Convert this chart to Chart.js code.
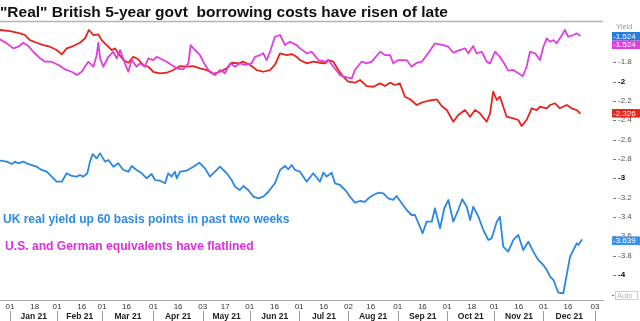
<!DOCTYPE html>
<html><head><meta charset="utf-8">
<script src="https://cdn.jsdelivr.net/npm/chart.js@4/dist/chart.umd.min.js"></script>
<style>html,body{margin:0;padding:0;background:#fff;overflow:hidden}#wrap{width:640px;height:321px;position:relative}</style>
</head><body><div id="wrap"><canvas id="c" width="640" height="321"></canvas></div>
<script>
const TITLE = '"Real" British 5-year govt  borrowing costs have risen of late';
const NOTE_UK = 'UK real yield up 60 basis points in past two weeks';
const NOTE_US = 'U.S. and German equivalents have flatlined';
const AXIS_TITLE = 'Yield';
const AUTO_LABEL = 'Auto';

// x values: trading-day index (weekdays counted from 1 Jan 2021 = 0)
const tickIdx = [0,11,21,32,41,52,64,75,86,96,107,118,129,140,151,161,173,184,195,206,216,227,238,249,261];
const tickLabels = ["01","18","01","16","01","16","01","16","03","17","01","16","01","16","02","16","01","16","01","18","01","16","01","16","03"];
const monthStartIdx = [0,21,41,64,86,107,129,151,173,195,216,238,261];
const monthLabels = ["Jan 21","Feb 21","Mar 21","Apr 21","May 21","Jun 21","Jul 21","Aug 21","Sep 21","Oct 21","Nov 21","Dec 21"];
const yTicks = [-1.6,-1.8,-2,-2.2,-2.4,-2.6,-2.8,-3,-3.2,-3.4,-3.6,-3.8,-4];

// UK 5-year real yield (blue)
const ukRealYield = [[-4.5,-2.819],[-1.5,-2.829],[0.8,-2.853],[2.2,-2.829],[3.7,-2.846],[5.9,-2.829],[7.5,-2.846],[9.7,-2.864],[11.9,-2.881],[14.1,-2.915],[16.4,-2.933],[18.6,-2.984],[20.8,-3.036],[23.1,-3.036],[25.3,-2.949],[27.5,-2.977],[29.8,-2.984],[31.2,-2.967],[32.7,-2.984],[34.5,-2.949],[35.7,-2.829],[36.9,-2.750],[38.7,-2.794],[40.2,-2.743],[42.4,-2.829],[43.9,-2.812],[46.1,-2.881],[48.3,-2.846],[50.6,-2.915],[52.8,-2.933],[54.3,-2.874],[56.5,-2.915],[58.8,-2.949],[61.0,-3.001],[63.2,-2.957],[64.7,-3.019],[66.9,-3.026],[69.2,-3.053],[70.6,-2.949],[72.1,-2.984],[73.6,-2.933],[74.4,-3.001],[75.9,-2.933],[78.8,-2.922],[81.8,-2.881],[84.5,-2.840],[87.0,-2.898],[89.2,-2.984],[91.5,-2.933],[93.7,-2.881],[96.7,-2.949],[98.9,-3.019],[100.4,-3.088],[102.6,-3.122],[104.1,-3.081],[106.3,-3.122],[108.6,-3.191],[110.8,-3.208],[113.0,-3.191],[115.3,-3.140],[118.2,-3.053],[120.5,-2.915],[122.7,-2.874],[124.2,-2.908],[125.7,-2.864],[127.2,-2.915],[129.4,-2.933],[132.4,-3.036],[135.3,-2.949],[138.3,-3.036],[139.8,-2.943],[141.3,-2.984],[143.5,-2.943],[145.0,-3.053],[147.2,-3.070],[148.7,-3.104],[150.2,-3.140],[151.7,-3.191],[153.9,-3.253],[156.2,-3.236],[158.4,-3.246],[159.9,-3.208],[162.1,-3.174],[164.3,-3.150],[166.6,-3.156],[168.8,-3.208],[171.0,-3.225],[172.5,-3.184],[174.8,-3.260],[177.0,-3.329],[179.2,-3.381],[180.7,-3.381],[182.9,-3.502],[184.1,-3.570],[185.9,-3.450],[188.2,-3.450],[189.6,-3.311],[191.9,-3.518],[193.8,-3.311],[195.6,-3.225],[197.8,-3.450],[200.0,-3.329],[201.8,-3.218],[203.8,-3.295],[205.3,-3.432],[206.7,-3.295],[209.0,-3.398],[211.2,-3.536],[213.4,-3.639],[214.9,-3.622],[217.2,-3.450],[218.6,-3.398],[220.1,-3.708],[222.3,-3.760],[224.6,-3.639],[226.8,-3.587],[229.0,-3.743],[231.3,-3.657],[233.5,-3.760],[235.7,-3.846],[238.0,-3.898],[239.5,-3.949],[241.0,-4.019],[242.5,-4.053],[243.9,-4.139],[244.7,-4.184],[246.9,-4.190],[248.4,-4.001],[249.9,-3.812],[251.4,-3.743],[252.9,-3.673],[253.6,-3.691],[255.1,-3.639]];

// U.S. 5-year real yield (magenta)
const usRealYield = [[-4.5,-1.564],[-1.5,-1.605],[1.5,-1.657],[3.7,-1.640],[5.9,-1.599],[8.2,-1.633],[10.4,-1.692],[13.4,-1.760],[15.6,-1.795],[18.6,-1.795],[21.6,-1.829],[24.5,-1.874],[27.5,-1.899],[29.8,-1.933],[32.0,-1.899],[34.9,-1.795],[37.2,-1.847],[38.7,-1.726],[39.4,-1.599],[40.2,-1.760],[41.6,-1.847],[43.9,-1.744],[46.1,-1.692],[47.6,-1.760],[49.1,-1.674],[51.3,-1.812],[52.8,-1.899],[54.3,-1.778],[56.5,-1.847],[58.0,-1.812],[60.2,-1.847],[61.7,-1.760],[63.9,-1.778],[65.5,-1.744],[67.7,-1.770],[69.9,-1.795],[72.1,-1.829],[74.4,-1.864],[77.3,-1.874],[79.6,-1.812],[80.6,-1.623],[82.5,-1.674],[84.8,-1.726],[86.6,-1.812],[88.5,-1.881],[91.5,-1.933],[93.7,-1.881],[95.9,-1.915],[98.2,-1.812],[100.4,-1.847],[102.6,-1.812],[104.9,-1.829],[107.8,-1.812],[109.3,-1.744],[111.6,-1.726],[113.0,-1.708],[114.5,-1.778],[116.0,-1.692],[118.2,-1.537],[120.5,-1.519],[122.7,-1.623],[124.9,-1.588],[127.9,-1.623],[129.4,-1.657],[132.4,-1.708],[134.6,-1.692],[137.6,-1.778],[140.6,-1.795],[142.0,-1.778],[144.3,-1.847],[147.2,-1.933],[150.2,-1.957],[152.5,-1.967],[153.9,-1.881],[156.9,-1.795],[159.2,-1.812],[161.4,-1.795],[165.1,-1.692],[167.3,-1.726],[169.6,-1.726],[171.0,-1.812],[173.3,-1.778],[177.0,-1.778],[179.2,-1.847],[181.5,-1.806],[183.7,-1.795],[186.6,-1.708],[189.6,-1.605],[193.3,-1.623],[195.6,-1.640],[197.8,-1.702],[200.0,-1.681],[203.0,-1.657],[204.5,-1.708],[206.7,-1.633],[208.2,-1.708],[210.5,-1.692],[212.7,-1.795],[214.2,-1.812],[216.4,-1.692],[218.6,-1.744],[220.9,-1.829],[222.3,-1.888],[224.6,-1.881],[226.8,-1.915],[228.8,-1.943],[230.5,-1.847],[232.0,-1.692],[234.3,-1.708],[236.5,-1.778],[238.0,-1.640],[239.5,-1.553],[241.0,-1.588],[242.5,-1.571],[243.9,-1.605],[245.4,-1.553],[247.6,-1.467],[249.1,-1.537],[251.4,-1.519],[252.9,-1.502],[254.3,-1.524]];

// German 5-year real yield (red)
const deRealYield = [[-4.5,-1.467],[0,-1.478],[4.5,-1.502],[6.7,-1.519],[8.9,-1.571],[11.9,-1.599],[14.9,-1.623],[17.8,-1.640],[20.8,-1.674],[23.1,-1.719],[25.3,-1.657],[28.2,-1.633],[31.2,-1.599],[33.5,-1.553],[35.2,-1.467],[37.2,-1.519],[39.4,-1.512],[40.9,-1.571],[43.1,-1.623],[45.4,-1.674],[46.9,-1.657],[48.3,-1.708],[50.6,-1.778],[52.8,-1.806],[55.0,-1.744],[57.2,-1.770],[59.5,-1.829],[61.7,-1.847],[63.9,-1.899],[66.9,-1.915],[69.9,-1.909],[72.9,-1.881],[75.9,-1.840],[78.8,-1.847],[81.8,-1.840],[84.8,-1.864],[87.8,-1.881],[90.7,-1.922],[93.7,-1.899],[96.7,-1.864],[98.9,-1.806],[101.9,-1.812],[104.1,-1.795],[107.1,-1.829],[110.1,-1.881],[113.0,-1.899],[116.0,-1.881],[118.2,-1.829],[120.5,-1.708],[123.5,-1.726],[125.7,-1.716],[127.9,-1.744],[129.4,-1.778],[132.4,-1.812],[135.3,-1.795],[138.3,-1.806],[140.6,-1.812],[142.0,-1.778],[144.3,-1.795],[146.5,-1.881],[148.7,-1.950],[150.9,-2.002],[153.9,-2.012],[156.2,-1.984],[159.2,-2.047],[162.1,-2.054],[165.1,-2.019],[167.3,-2.047],[169.6,-2.012],[171.8,-2.036],[174.0,-2.019],[176.2,-2.157],[178.5,-2.184],[181.5,-2.243],[183.7,-2.219],[186.6,-2.199],[190.4,-2.184],[192.6,-2.253],[194.9,-2.295],[197.8,-2.416],[200.0,-2.346],[203.0,-2.295],[205.3,-2.364],[207.5,-2.295],[209.7,-2.329],[212.7,-2.416],[214.2,-2.329],[215.6,-2.105],[217.2,-2.191],[218.6,-2.157],[220.1,-2.261],[221.6,-2.364],[224.6,-2.381],[226.8,-2.398],[228.3,-2.460],[230.5,-2.398],[232.8,-2.277],[235.0,-2.295],[236.5,-2.261],[239.5,-2.277],[241.0,-2.243],[243.2,-2.225],[245.4,-2.277],[248.4,-2.243],[250.6,-2.277],[252.9,-2.295],[254.3,-2.326]];

const C_UK = '#2b87e3', C_US = '#e03ee0', C_DE = '#e8231d';
const SANS = '"Liberation Sans", Arial, sans-serif';

function fitSize(ctx, text, weight, width) {
  ctx.font = weight + ' 100px ' + SANS;
  return 100 * width / ctx.measureText(text).width;
}
const toXY = arr => arr.map(p => ({x: p[0], y: p[1]}));
const last = arr => arr[arr.length - 1][1];
const isWhole = c => !!(c && c.tick && Number.isInteger(c.tick.value));

const decor = {
  id: 'decor',
  afterDraw(chart) {
    const ctx = chart.ctx, xs = chart.scales.x, ys = chart.scales.y, ca = chart.chartArea;
    ctx.save();
    // title
    const ts = fitSize(ctx, TITLE, 'bold', 448);
    ctx.font = 'bold ' + ts + 'px ' + SANS;
    ctx.fillStyle = '#111'; ctx.textAlign = 'left'; ctx.textBaseline = 'alphabetic';
    ctx.fillText(TITLE, 0, 17);
    // top frame line
    ctx.strokeStyle = '#b3b3b3'; ctx.lineWidth = 1.5;
    ctx.beginPath(); ctx.moveTo(0, 21.5); ctx.lineTo(ca.right, 21.5); ctx.stroke();
    // notes
    ctx.textBaseline = 'middle';
    let s = fitSize(ctx, NOTE_UK, 'bold', 287);
    ctx.font = 'bold ' + s + 'px ' + SANS; ctx.fillStyle = '#2d8be8';
    ctx.fillText(NOTE_UK, 3, 220);
    s = fitSize(ctx, NOTE_US, 'bold', 249);
    ctx.font = 'bold ' + s + 'px ' + SANS; ctx.fillStyle = '#e02ee0';
    ctx.fillText(NOTE_US, 5, 247);
    // month separators and labels
    ctx.strokeStyle = '#999'; ctx.lineWidth = 1;
    ctx.font = 'bold 8.5px ' + SANS; ctx.fillStyle = '#222'; ctx.textAlign = 'center';
    for (let i = 0; i < monthStartIdx.length; i++) {
      const px = Math.round(xs.getPixelForValue(monthStartIdx[i])) + 0.5;
      ctx.beginPath(); ctx.moveTo(px, 311); ctx.lineTo(px, 321); ctx.stroke();
      if (i < monthLabels.length) {
        const nx = xs.getPixelForValue(monthStartIdx[i + 1]);
        ctx.fillText(monthLabels[i], (px + nx) / 2, 316.5);
      }
    }
    // y tick dashes
    ctx.strokeStyle = '#777';
    yTicks.forEach(v => {
      const py = Math.round(ys.getPixelForValue(v)) + 0.5;
      ctx.beginPath(); ctx.moveTo(613, py); ctx.lineTo(616, py); ctx.stroke();
    });
    // axis caption
    ctx.textAlign = 'left';
    ctx.font = '7.5px ' + SANS; ctx.fillStyle = '#999';
    ctx.fillText(AXIS_TITLE, 616, 26.5);
    // Auto box
    ctx.beginPath(); ctx.moveTo(612, 295.5); ctx.lineTo(614, 295.5); ctx.stroke();
    ctx.strokeStyle = '#cfcfcf'; ctx.strokeRect(615.5, 291.5, 22, 8);
    ctx.fillStyle = '#b5b5b5'; ctx.font = '7.5px ' + SANS;
    ctx.fillText(AUTO_LABEL, 617, 295.8);
    // last-value boxes
    const box = (val, dy, bg) => {
      const py = ys.getPixelForValue(val) + dy;
      ctx.fillStyle = bg; ctx.fillRect(612, py - 4, 28, 8.5);
      ctx.fillStyle = '#fff'; ctx.font = '8px ' + SANS;
      ctx.fillText(val.toFixed(3), 613, py + 0.5);
    };
    box(last(usRealYield), 0.5, '#2a7de0');
    box(last(usRealYield), 9, C_US);
    box(last(deRealYield), 0, '#e8241c');
    box(last(ukRealYield), 0.5, '#3592ee');
    ctx.restore();
  }
};

new Chart(document.getElementById('c'), {
  type: 'line',
  data: {
    datasets: [
      {label: 'U.S.', data: toXY(usRealYield), borderColor: C_US},
      {label: 'Germany', data: toXY(deRealYield), borderColor: C_DE},
      {label: 'UK', data: toXY(ukRealYield), borderColor: C_UK}
    ]
  },
  options: {
    responsive: false, animation: false, devicePixelRatio: 1,
    layout: {padding: {top: 21, left: 0, right: 0, bottom: 0}},
    plugins: {legend: {display: false}, tooltip: {enabled: false}, title: {display: false}},
    elements: {point: {radius: 0}, line: {tension: 0, borderWidth: 1.8, borderJoinStyle: 'round', borderCapStyle: 'round'}},
    scales: {
      x: {
        type: 'linear', min: -4.46, max: 264.6,
        afterBuildTicks: s => { s.ticks = tickIdx.map(v => ({value: v})); },
        afterFit: s => { s.height = 21; },
        grid: {display: false, drawTicks: false},
        border: {display: true, color: '#a8a8a8', width: 1},
        ticks: {autoSkip: false, maxRotation: 0, padding: 2, color: '#333',
          font: {family: SANS, size: 8}, callback: (v, i) => tickLabels[i]}
      },
      y: {
        position: 'right', min: -4.26, max: -1.374,
        afterBuildTicks: s => { s.ticks = yTicks.map(v => ({value: v})); },
        afterFit: s => { s.width = 37; },
        grid: {display: false, drawTicks: false},
        border: {display: false},
        ticks: {padding: 15,
          color: c => isWhole(c) ? '#000' : '#555',
          font: c => ({family: SANS, size: 8, weight: isWhole(c) ? 'bold' : 'normal'}),
          callback: v => String(Number(v.toFixed(1)))}
      }
    }
  },
  plugins: [decor]
});
</script>
</body></html>
